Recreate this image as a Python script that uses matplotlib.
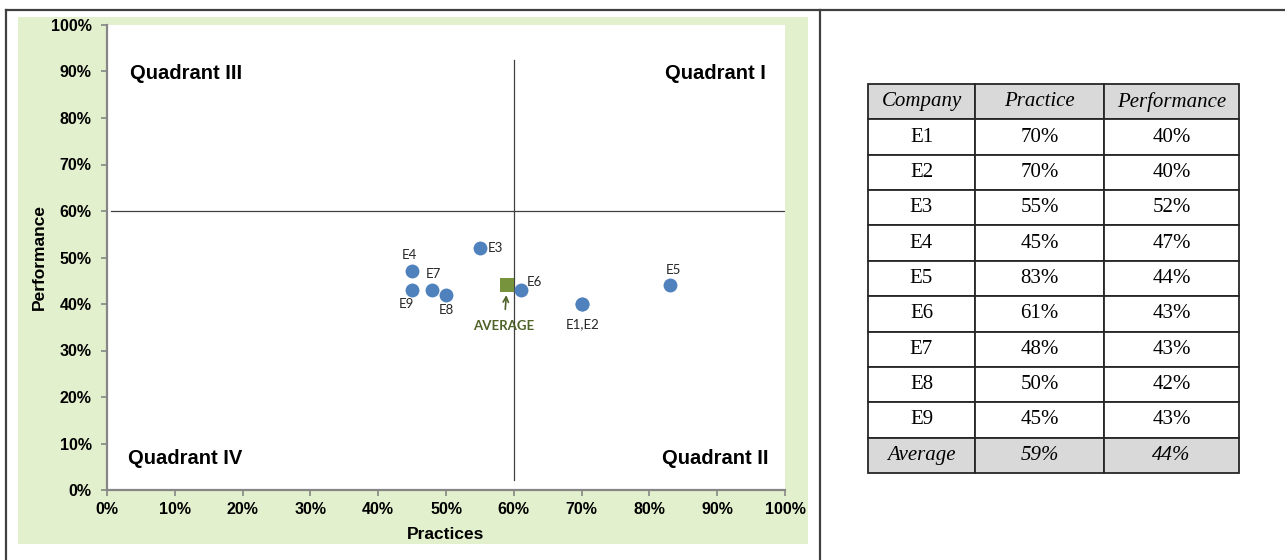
import matplotlib.pyplot as plt
from matplotlib.patches import Rectangle
from matplotlib.lines import Line2D
from matplotlib.ticker import PercentFormatter

companies = ['E1', 'E2', 'E3', 'E4', 'E5', 'E6', 'E7', 'E8', 'E9']
practice = [70, 70, 55, 45, 83, 61, 48, 50, 45]
performance = [40, 40, 52, 47, 44, 43, 43, 42, 43]
avg_practice = 59
avg_performance = 44

# point labels as drawn on the chart (E1 and E2 share one dot)
point_labels = ['E1,E2', None, 'E3', 'E4', 'E5', 'E6', 'E7', 'E8', 'E9']
label_offsets = {'E1,E2': (1, -20), 'E3': (16, 0), 'E4': (-3, 16), 'E5': (4, 15),
                 'E6': (14, 8), 'E7': (1, 16), 'E8': (0, -15), 'E9': (-6, -14)}

blue = '#4F81BD'
green = '#77933C'
axis_grey = '#868686'

fig = plt.figure(figsize=(12.85, 5.6), dpi=100)
fig.patch.set_facecolor('white')

# light green chart area
fig.add_artist(Rectangle((18 / 1285, 16 / 560), 790 / 1285, 527 / 560,
                         transform=fig.transFigure, facecolor='#E3F0CD',
                         edgecolor='none', zorder=0))
# page border lines
for xs, ys in [([6 / 1285, 1.0], [550 / 560, 550 / 560]),
               ([6 / 1285, 6 / 1285], [0, 550 / 560]),
               ([820 / 1285, 820 / 1285], [0, 550 / 560])]:
    fig.add_artist(Line2D(xs, ys, transform=fig.transFigure, color='#404040', lw=1.6))

ax = fig.add_axes([107 / 1285, 70 / 560, 678 / 1285, 465 / 560])
ax.set_facecolor('white')
ax.set_xlim(0, 100)
ax.set_ylim(0, 100)
ax.set_xticks(range(0, 101, 10))
ax.set_yticks(range(0, 101, 10))
ax.xaxis.set_major_formatter(PercentFormatter(decimals=0))
ax.yaxis.set_major_formatter(PercentFormatter(decimals=0))
for s in ['top', 'right']:
    ax.spines[s].set_visible(False)
for s in ['left', 'bottom']:
    ax.spines[s].set_color(axis_grey)
    ax.spines[s].set_linewidth(1.6)
ax.tick_params(direction='out', length=4, width=1.2, color=axis_grey)
ax.tick_params(axis='y', pad=7)
ax.tick_params(axis='x', pad=5)
for lab in ax.get_xticklabels() + ax.get_yticklabels():
    lab.set_fontfamily('Liberation Sans')
    lab.set_fontweight('bold')
    lab.set_fontsize(11.5)
ax.set_xlabel('Practices', fontfamily='Liberation Sans', fontweight='bold', fontsize=12.5, labelpad=7)
ax.set_ylabel('Performance', fontfamily='Liberation Sans', fontweight='bold', fontsize=12.5, labelpad=3)

# quadrant divider lines
ax.plot([0.6, 100], [60, 60], color='#404040', lw=0.9, zorder=1)
ax.plot([60, 60], [2.2, 92.5], color='#404040', lw=0.9, zorder=1)

qfont = dict(fontfamily='Liberation Sans', fontweight='bold', fontsize=14.5, color='black')
ax.text(3.4, 89.5, 'Quadrant III', ha='left', va='center', **qfont)
ax.text(97.2, 89.5, 'Quadrant I', ha='right', va='center', **qfont)
ax.text(3.1, 6.8, 'Quadrant IV', ha='left', va='center', **qfont)
ax.text(97.6, 6.8, 'Quadrant II', ha='right', va='center', **qfont)

ax.scatter(practice, performance, s=100, color=blue, zorder=3, linewidths=0)
for x, y, lab in zip(practice, performance, point_labels):
    if lab is None:
        continue
    dx, dy = label_offsets[lab]
    ax.annotate(lab, (x, y), xytext=(dx, dy), textcoords='offset pixels',
                ha='center', va='center', fontfamily='Lato', fontsize=9.5, color='#262626')

ax.scatter([avg_practice], [avg_performance], s=100, marker='s', color=green, zorder=3, linewidths=0)
ax.annotate('AVERAGE', (avg_practice, avg_performance), xytext=(-3, -41), textcoords='offset pixels',
            ha='center', va='center', fontfamily='Lato', fontweight='bold', fontsize=9.5, color='#4F6228',
            arrowprops=dict(arrowstyle='->', color='#4F6228', lw=1.2, shrinkA=6, shrinkB=7))

# table on the right
tax = fig.add_axes([868 / 1285, 87 / 560, 371 / 1285, 389 / 560])
tax.axis('off')
rows = [[c, f'{p}%', f'{q}%'] for c, p, q in zip(companies, practice, performance)]
rows.append(['Average', f'{avg_practice}%', f'{avg_performance}%'])
tbl = tax.table(cellText=rows, colLabels=['Company', 'Practice', 'Performance'],
                colWidths=[107, 129, 135], cellLoc='center', bbox=[0, 0, 1, 1])
tbl.auto_set_font_size(False)
n = len(rows)
for (r, c), cell in tbl.get_celld().items():
    cell.set_edgecolor('#262626')
    cell.set_linewidth(1.3)
    txt = cell.get_text()
    txt.set_fontfamily('Liberation Serif')
    txt.set_fontsize(15)
    if r == 0 or r == n:
        cell.set_facecolor('#D9D9D9')
        txt.set_fontstyle('italic')
    else:
        cell.set_facecolor('white')

fig.savefig('out.png', dpi=100, facecolor='white')
